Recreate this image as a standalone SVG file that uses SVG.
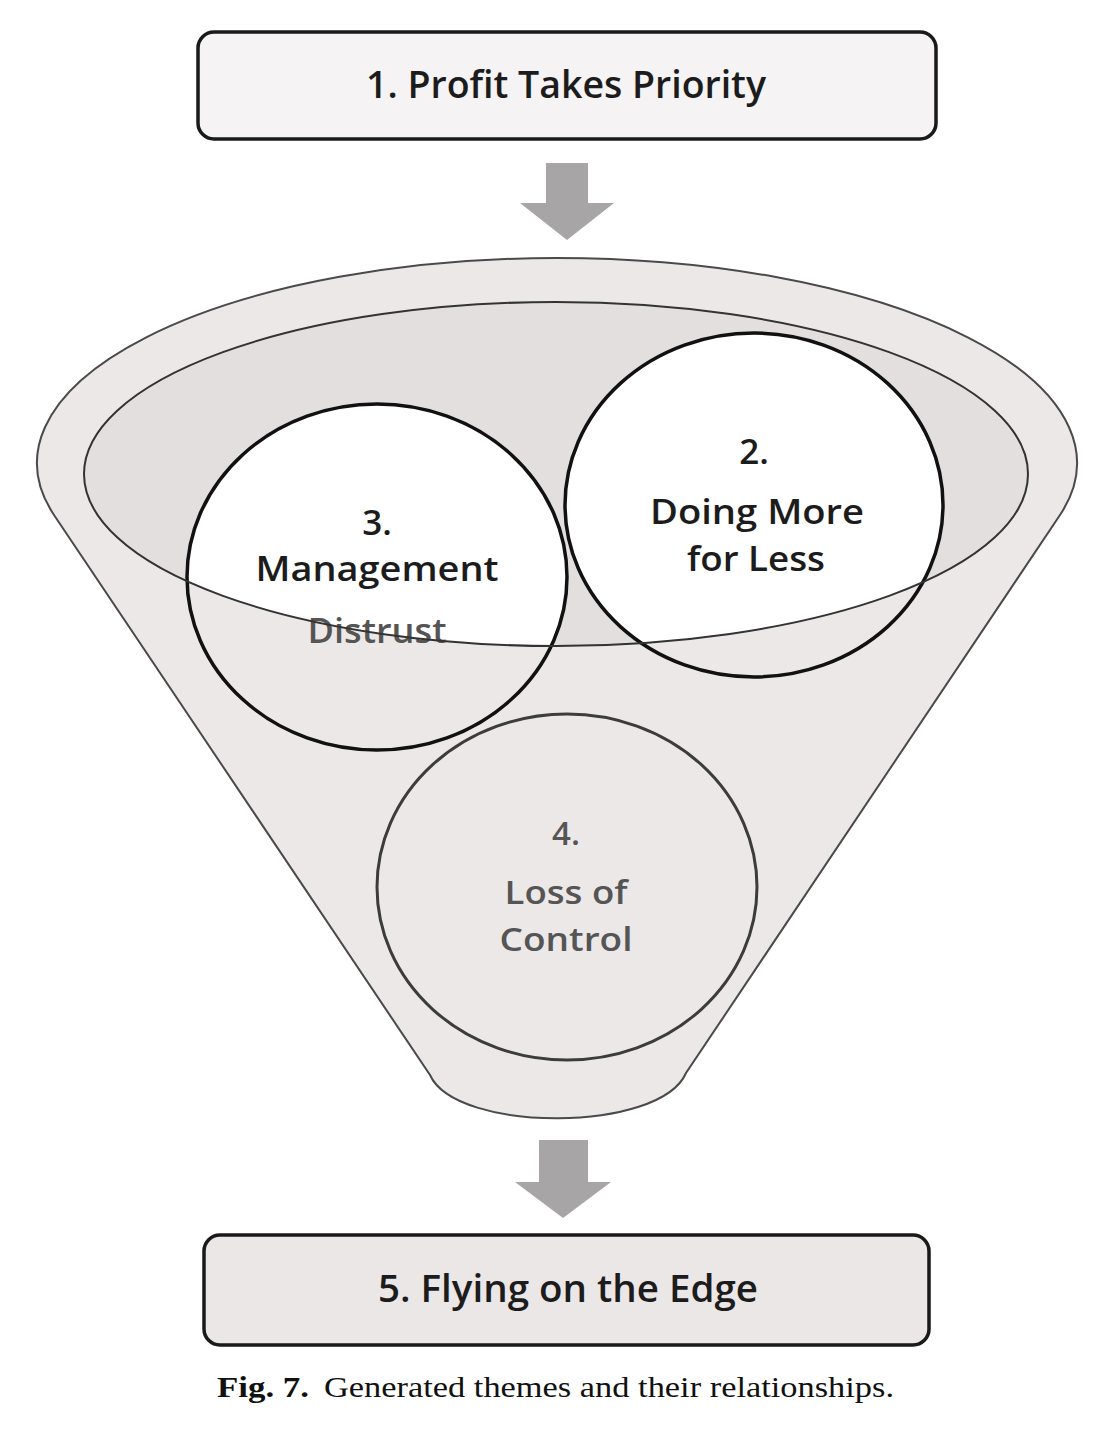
<svg xmlns="http://www.w3.org/2000/svg" width="1102" height="1436" viewBox="0 0 1102 1436">
  <style>
    .box { stroke: #1a1a1a; stroke-width: 3.5; }
    .lbl { font-family: "Open Sans", "Liberation Sans", sans-serif; text-anchor: middle; font-weight: 600; }
    .dark { fill: #1c1c1c; }
    .grey { fill: #555555; }
    .arrow { fill: #a7a5a5; }
    .ring { stroke: #111111; stroke-width: 3.5; fill: none; }
    .cap { font-family: "Liberation Serif", "Times New Roman", serif; font-size: 29px; fill: #111111; }
  </style>
  <defs>
    <clipPath id="innerClip">
      <ellipse cx="556" cy="474" rx="472" ry="172"/>
    </clipPath>
  </defs>
  <rect width="1102" height="1436" fill="#ffffff"/>

  <g id="node1">
    <rect class="box" x="198" y="32" width="738" height="107" rx="16" fill="#f5f3f3"/>
    <text class="lbl dark" x="566" y="98" font-size="38" textLength="400" lengthAdjust="spacingAndGlyphs">1. Profit Takes Priority</text>
  </g>

  <g id="connectors">
    <path class="arrow" d="M546,163 H588 V203 H614 L567,240 L520,203 H546 Z"/>
    <path class="arrow" d="M539,1140 H588 V1182 H611 L563,1218 L515,1182 H539 Z"/>
  </g>

  <g id="funnel">
    <path d="M54,515 A520,205 0 1 1 1060,515 L686,1073 C660,1133 456,1133 430,1075 Z" fill="#ece8e8" stroke="#4a4a4a" stroke-width="2"/>
    <ellipse cx="556" cy="474" rx="472" ry="172" fill="#e3dfdf"/>
    <g clip-path="url(#innerClip)">
      <ellipse cx="754" cy="505" rx="189" ry="172" fill="#ffffff"/>
      <ellipse cx="377" cy="577" rx="190" ry="173" fill="#ffffff"/>
    </g>
  </g>

  <g id="node3">
    <ellipse class="ring" cx="377" cy="577" rx="190" ry="173"/>
    <text class="lbl dark" x="377" y="535" font-size="35">3.</text>
    <text class="lbl dark" x="377" y="581" font-size="35" textLength="243" lengthAdjust="spacingAndGlyphs">Management</text>
    <text class="lbl grey" x="377" y="643" font-size="35" textLength="139" lengthAdjust="spacingAndGlyphs">Distrust</text>
  </g>

  <g id="node2">
    <ellipse class="ring" cx="754" cy="505" rx="189" ry="172"/>
    <text class="lbl dark" x="754" y="464" font-size="35">2.</text>
    <text class="lbl dark" x="757" y="524" font-size="35" textLength="214" lengthAdjust="spacingAndGlyphs">Doing More</text>
    <text class="lbl dark" x="756" y="571" font-size="35" textLength="138" lengthAdjust="spacingAndGlyphs">for Less</text>
  </g>

  <g id="node4">
    <ellipse cx="567" cy="887" rx="190" ry="173" fill="none" stroke="#3c3c3c" stroke-width="3"/>
    <text class="lbl grey" x="566" y="845" font-size="33">4.</text>
    <text class="lbl grey" x="566" y="904" font-size="33" textLength="123" lengthAdjust="spacingAndGlyphs">Loss of</text>
    <text class="lbl grey" x="566" y="951" font-size="33" textLength="133" lengthAdjust="spacingAndGlyphs">Control</text>
  </g>

  <g id="innerRim">
    <ellipse cx="556" cy="474" rx="472" ry="172" fill="none" stroke="#333333" stroke-width="2"/>
  </g>

  <g id="node5">
    <rect class="box" x="204" y="1235" width="725" height="110" rx="16" fill="#ebe7e7"/>
    <text class="lbl dark" x="568" y="1302" font-size="38" textLength="380" lengthAdjust="spacingAndGlyphs">5. Flying on the Edge</text>
  </g>

  <g id="caption">
    <text class="cap" x="217" y="1397" font-weight="bold" textLength="92" lengthAdjust="spacingAndGlyphs">Fig. 7.</text>
    <text class="cap" x="324" y="1397" textLength="570" lengthAdjust="spacingAndGlyphs">Generated themes and their relationships.</text>
  </g>
</svg>
